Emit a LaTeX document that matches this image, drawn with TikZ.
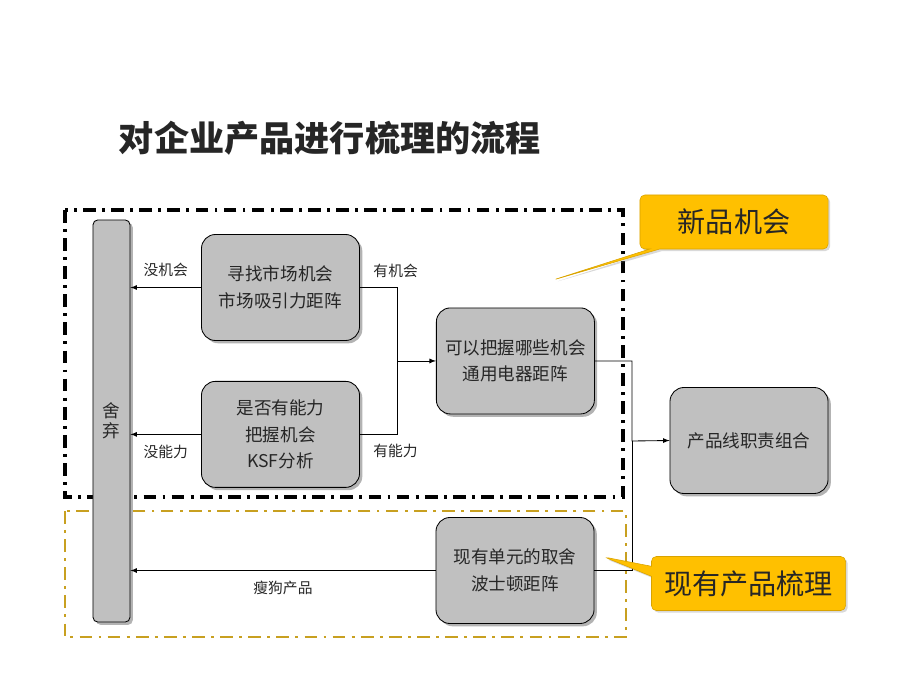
\documentclass[tikz,border=0pt]{standalone}
\usepackage{fontspec}
\setmainfont{Noto Sans CJK SC}
\usetikzlibrary{shapes, arrows, positioning, calc, shadows, shapes.callouts}
\definecolor{boxgray}{RGB}{192,192,192}
\definecolor{notegold}{RGB}{255,192,0}
\definecolor{framegold}{RGB}{200,160,32}

\begin{document}
\begin{tikzpicture}[x=0.025cm, y=-0.025cm,
    box/.style={draw=black, fill=boxgray, rectangle, rounded corners=0.35cm, minimum width=3.95cm, minimum height=2.65cm, align=center, line width=0.6pt, text=black!85, font=\fontsize{12.5}{19}\selectfont, drop shadow={shadow xshift=2pt, shadow yshift=-2pt, opacity=0.6}},
    arrow/.style={->, >=latex, line width=0.6pt},
    lbl/.style={text=black!85, font=\fontsize{10.5}{12}\selectfont},
    callnote/.style={rectangle callout, fill=notegold, draw=notegold!85!black, rounded corners=0.12cm, minimum height=1.35cm, text=black!85, font=\fontsize{20}{24}\selectfont, drop shadow={shadow xshift=1.5pt, shadow yshift=-1.5pt, opacity=0.3}},
    frame/.style={line width=2.2pt, dash pattern=on 9pt off 4.5pt on 2pt off 4.5pt}
]
\useasboundingbox (0,0) rectangle (920,690);

\node[anchor=west, text=black!85, font=\bfseries\fontsize{25}{30}\selectfont] (title) at (114,138) {对企业产品进行梳理的流程};

% frames
\draw[frame] (65,210) rectangle (623,497);
\draw[frame, framegold, line width=2.1pt] (65,511) rectangle (626,637);

% boxes
\node[box, rounded corners=0.12cm, minimum width=0.925cm, minimum height=10.05cm, inner sep=0pt, font=\fontsize{12.5}{14}\selectfont] (drop) at (111.5,421) {舍\\弃};
\node[box] (find) at (280.5,287.5) {寻找市场机会\\市场吸引力距阵};
\node[box, below=1cm of find] (able) {是否有能力\\把握机会\\KSF分析};
\coordinate (j1) at ($(find.east)!0.5!(able.east)+(37,0)$);
\node[box, right=0.975cm of j1, anchor=west] (grasp) {可以把握哪些机会\\通用电器距阵};
\node[box] (duty) at (749,440.5) {产品线职责组合};
\node[box] (keep) at (515,570.5) {现有单元的取舍\\波士顿距阵};
\coordinate (j2) at (632,441);

% connectors
\draw[arrow] (find.west) -- node[lbl, above=4pt] {没机会} (find.west -| drop.east);
\draw[arrow] (able.west) -- node[lbl, below=4pt] {没能力} (able.west -| drop.east);
\draw[arrow] (keep.west) -- node[lbl, below=4pt] {瘦狗产品} (keep.west -| drop.east);
\draw[arrow] (find.east) node[lbl, above right=3pt and 6pt] {有机会} -| (j1) -- (grasp.west);
\draw (able.east) node[lbl, below right=3pt and 6pt] {有能力} -| (j1);
\draw[arrow] (grasp.east) -| (j2) -- (duty.west);
\draw (keep.east) -| (j2);

% callouts
\node[callnote, minimum width=4.7cm, callout absolute pointer={(553,280)}] (newop) at (734,222) {新品机会};
\node[callnote, minimum width=4.85cm, callout absolute pointer={(604,557)}] (sort) at (748.5,583.5) {现有产品梳理};
\end{tikzpicture}
\end{document}
